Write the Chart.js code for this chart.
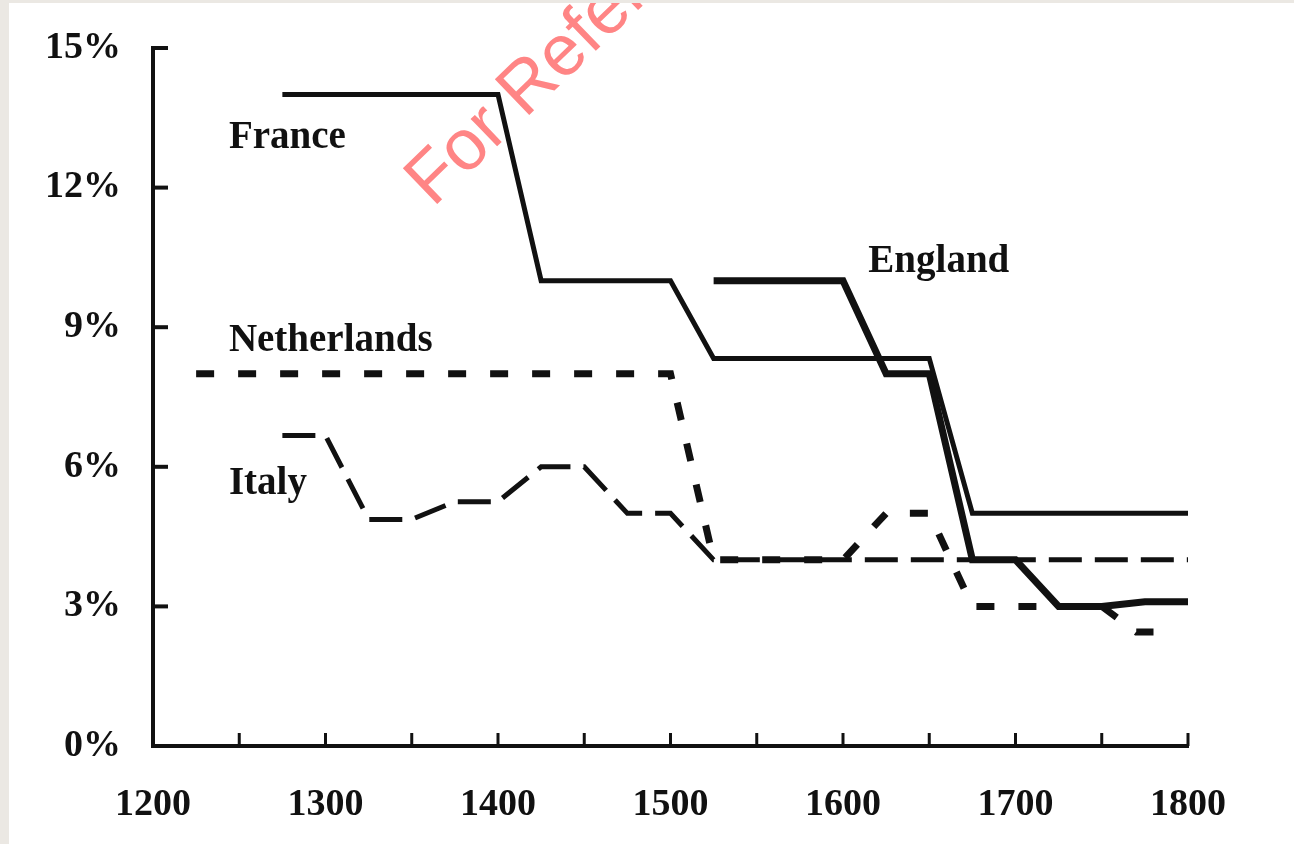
<!DOCTYPE html>
<html>
<head>
<meta charset="utf-8">
<script src="https://cdn.jsdelivr.net/npm/chart.js@4/dist/chart.umd.min.js"></script>
<style>
    html, body { margin: 0; padding: 0; background: #ebe8e3; }
    #wrap { position: absolute; left: 9px; top: 3px; width: 1285px; height: 841px; background: #fff; }
</style>
</head>
<body>
<div id="wrap"><canvas id="rateChart"></canvas></div>
<script>
const years = [1225, 1250, 1275, 1300, 1325, 1350, 1375, 1400, 1425, 1450, 1475, 1500,
    1525, 1550, 1575, 1600, 1625, 1650, 1675, 1700, 1725, 1750, 1775, 1800]

const france = [null, null, 14, 14, 14, 14, 14, 14, 10, 10, 10, 10,
    8.33, 8.33, 8.33, 8.33, 8.33, 8.33, 5, 5, 5, 5, 5, 5]
const england = [null, null, null, null, null, null, null, null, null, null, null, null,
    10, 10, 10, 10, 8, 8, 4, 4, 3, 3, 3.1, 3.1]
const italy = [null, null, 6.67, 6.67, 4.87, 4.87, 5.25, 5.25, 6, 6, 5, 5,
    4, 4, 4, 4, 4, 4, 4, 4, 4, 4, 4, 4]

// the Netherlands series ends a little before 1800
const netherlandsYears = [1225, 1250, 1275, 1300, 1325, 1350, 1375, 1400, 1425, 1450, 1475, 1500,
    1525, 1550, 1575, 1600, 1625, 1650, 1675, 1700, 1725, 1750, 1770, 1780]
const netherlands = [8, 8, 8, 8, 8, 8, 8, 8, 8, 8, 8, 8,
    4, 4, 4, 4, 5, 5, 3, 3, 3, 3, 2.45, 2.45]

const yTicks = [0, 3, 6, 9, 12, 15]
const xMinorTicks = [1250, 1300, 1350, 1400, 1450, 1500, 1550, 1600, 1650, 1700, 1750, 1800]

// country name labels, placed in data coordinates
const seriesLabels = [
    { text: "France", x: 1244, y: 12.85 },
    { text: "England", x: 1614.7, y: 10.19 },
    { text: "Netherlands", x: 1244, y: 8.49 },
    { text: "Italy", x: 1244, y: 5.42 },
]

const serif = "'Liberation Serif', 'Times New Roman', serif"
const toPoints = (xs, vals) => xs.map((x, i) => ({ x, y: vals[i] }))

const decor = {
    id: "decor",
    beforeDatasetsDraw(chart) {
        const { ctx } = chart
        ctx.save()
        ctx.translate(424, 205)
        ctx.rotate(-44 * Math.PI / 180)
        ctx.font = "72px 'Liberation Sans', Arial, sans-serif"
        ctx.fillStyle = "#ff8585"
        ctx.textBaseline = "alphabetic"
        ctx.fillText("For Reference", 0, 0)
        ctx.restore()
    },
    afterDatasetsDraw(chart) {
        const { ctx, scales: { x, y } } = chart
        ctx.save()
        ctx.strokeStyle = "#111"
        ctx.lineCap = "butt"
        ctx.lineWidth = 4
        for (const t of yTicks) {
            const py = y.getPixelForValue(t)
            ctx.beginPath()
            ctx.moveTo(x.left, py)
            ctx.lineTo(x.left + 15, py)
            ctx.stroke()
        }
        ctx.lineWidth = 3
        for (const t of xMinorTicks) {
            const px = x.getPixelForValue(t)
            ctx.beginPath()
            ctx.moveTo(px, y.bottom)
            ctx.lineTo(px, y.bottom - 13)
            ctx.stroke()
        }
        ctx.fillStyle = "#111"
        ctx.font = `bold 39px ${serif}`
        ctx.textBaseline = "alphabetic"
        for (const l of seriesLabels) {
            ctx.fillText(l.text, x.getPixelForValue(l.x), y.getPixelForValue(l.y))
        }
        ctx.restore()
    },
}

const baseLine = {
    fill: false,
    pointRadius: 0,
    tension: 0,
    spanGaps: false,
    borderColor: "#111",
    borderJoinStyle: "miter",
    borderCapStyle: "butt",
}

new Chart(document.getElementById("rateChart"), {
    type: "line",
    data: {
        datasets: [
            { ...baseLine, label: "France", data: toPoints(years, france), borderWidth: 5 },
            { ...baseLine, label: "England", data: toPoints(years, england), borderWidth: 7 },
            { ...baseLine, label: "Netherlands", data: toPoints(netherlandsYears, netherlands), borderWidth: 7, borderDash: [18, 24] },
            { ...baseLine, label: "Italy", data: toPoints(years, italy), borderWidth: 5, borderDash: [33, 13] },
        ],
    },
    options: {
        responsive: true,
        maintainAspectRatio: false,
        animation: false,
        devicePixelRatio: 1,
        layout: { padding: { top: 45, right: 106, left: 0, bottom: 0 } },
        plugins: {
            legend: { display: false },
            tooltip: { enabled: false },
        },
        scales: {
            x: {
                type: "linear",
                min: 1200,
                max: 1800,
                afterFit: (s) => {
                    s.height = 98
                    s.paddingLeft = 0
                    s.paddingRight = 0
                },
                grid: { display: false, drawTicks: false },
                border: { display: true, width: 4, color: "#111" },
                ticks: {
                    stepSize: 100,
                    padding: 36,
                    color: "#111",
                    font: { family: serif, size: 38, weight: "bold" },
                    callback: (v) => String(v),
                },
            },
            y: {
                min: 0,
                max: 15,
                afterFit: (s) => {
                    s.width = 144
                    s.paddingTop = 0
                    s.paddingBottom = 0
                },
                grid: { display: false, drawTicks: false },
                border: { display: true, width: 4, color: "#111" },
                ticks: {
                    stepSize: 3,
                    padding: 32,
                    color: "#111",
                    font: { family: serif, size: 38, weight: "bold" },
                    callback: (v) => v + "%",
                },
            },
        },
    },
    plugins: [decor],
})
</script>
</body>
</html>
